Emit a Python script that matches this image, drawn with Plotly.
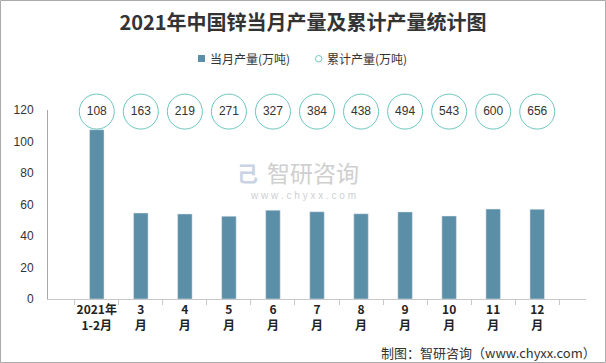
import plotly.graph_objects as go

categories = ["2021年<br>1-2月", "3<br>月", "4<br>月", "5<br>月", "6<br>月", "7<br>月",
              "8<br>月", "9<br>月", "10<br>月", "11<br>月", "12<br>月"]
monthly = [107.5, 54.6, 54.0, 52.6, 56.4, 55.4, 54.1, 55.3, 52.7, 57.1, 57.0]
cumulative = [108, 163, 219, 271, 327, 384, 438, 494, 543, 600, 656]
circle_level = [119] * len(categories)

bar_color = "#5B8FA8"
circle_color = "#6CC7BE"

L, R, T, B = 48, 20, 110, 64
PW, PH = 606 - L - R, 363 - T - B


def px(x):
    return (x - L) / PW


def py(y):
    return (363 - B - y) / PH


fig = go.Figure()
fig.add_trace(go.Bar(
    x=categories, y=monthly, name="当月产量(万吨)",
    marker=dict(color=bar_color), width=0.33, showlegend=False,
))
fig.add_trace(go.Scatter(
    x=categories, y=circle_level, mode="markers+text",
    text=[str(v) for v in cumulative], textposition="middle center",
    textfont=dict(size=12, color="#333333", family="Liberation Sans, Arial"),
    marker=dict(symbol="circle", size=35, color="rgba(255,255,255,1)",
                line=dict(color=circle_color, width=1)),
    cliponaxis=False, showlegend=False, hoverinfo="skip",
))

fig.update_layout(
    width=606, height=363,
    margin=dict(l=L, r=R, t=T, b=B, autoexpand=False),
    paper_bgcolor="white", plot_bgcolor="white",
    font=dict(family="Noto Sans CJK SC, Liberation Sans", size=12, color="#333333"),
    title=dict(text="<b>2021年中国锌当月产量及累计产量统计图</b>",
               x=0.5, xanchor="center", y=1 - 23 / 363, yanchor="middle",
               font=dict(size=20, color="#333333", family="Noto Sans CJK SC")),
    bargap=0.67,
    showlegend=False,
)
fig.update_xaxes(
    type="category", showline=True, linecolor="#c8c8c8", linewidth=1,
    ticks="outside", tickson="boundaries", ticklen=5, tickcolor="#c8c8c8",
    tickangle=0, automargin=False,
    tickfont=dict(size=12, color="#222222", family="Noto Sans CJK SC", weight="bold"),
    showgrid=False, zeroline=False,
)
fig.update_yaxes(
    range=[0, 120], dtick=20, showline=True, linecolor="#a8a8a8", linewidth=1,
    showgrid=False, zeroline=False, ticks="", ticklabelstandoff=11, automargin=False,
    tickfont=dict(size=12, color="#333333", family="Liberation Sans, Arial"),
)

# manual legend
fig.add_shape(type="rect", xref="paper", yref="paper",
              x0=px(198), x1=px(205), y0=py(62), y1=py(55),
              fillcolor=bar_color, line=dict(width=0))
fig.add_annotation(xref="paper", yref="paper", x=px(208), y=py(58.5),
                   xanchor="left", yanchor="middle", showarrow=False,
                   text="当月产量(万吨)", font=dict(size=12, color="#333333"))
fig.add_shape(type="circle", xref="paper", yref="paper",
              x0=px(315.5), x1=px(322), y0=py(62), y1=py(55.5),
              fillcolor="white", line=dict(color=circle_color, width=1))
fig.add_annotation(xref="paper", yref="paper", x=px(325), y=py(58.5),
                   xanchor="left", yanchor="middle", showarrow=False,
                   text="累计产量(万吨)", font=dict(size=12, color="#333333"))

# watermark
fig.add_annotation(xref="paper", yref="paper", x=px(265), y=py(172),
                   xanchor="left", yanchor="middle", showarrow=False,
                   text="智研咨询", font=dict(size=23, color="#cfcfcf", family="Noto Sans CJK SC"))
fig.add_annotation(xref="paper", yref="paper", x=px(247), y=py(172),
                   xanchor="center", yanchor="middle", showarrow=False,
                   text="<b>己</b>", font=dict(size=21, color="#c9d3e3", family="Noto Sans CJK SC"))
fig.add_annotation(xref="paper", yref="paper", x=px(303), y=py(195),
                   xanchor="center", yanchor="middle", showarrow=False,
                   text="w w w . c h y x x . c o m",
                   font=dict(size=10, color="#cfcfcf", family="Liberation Sans"))
# source
fig.add_annotation(xref="paper", yref="paper", x=px(598), y=py(352),
                   xanchor="right", yanchor="middle", showarrow=False,
                   text="制图：智研咨询（www.chyxx.com）",
                   font=dict(size=13, color="#333333", family="Noto Sans CJK SC"))
# border
fig.add_shape(type="rect", xref="paper", yref="paper",
              x0=px(0.5), x1=px(605.5), y0=py(362.5), y1=py(0.5),
              line=dict(color="#aaaaaa", width=1), layer="below")

fig.write_html("out.html", config={"displayModeBar": False},
               post_script="document.body.style.margin='0';document.body.style.overflow='hidden';")
